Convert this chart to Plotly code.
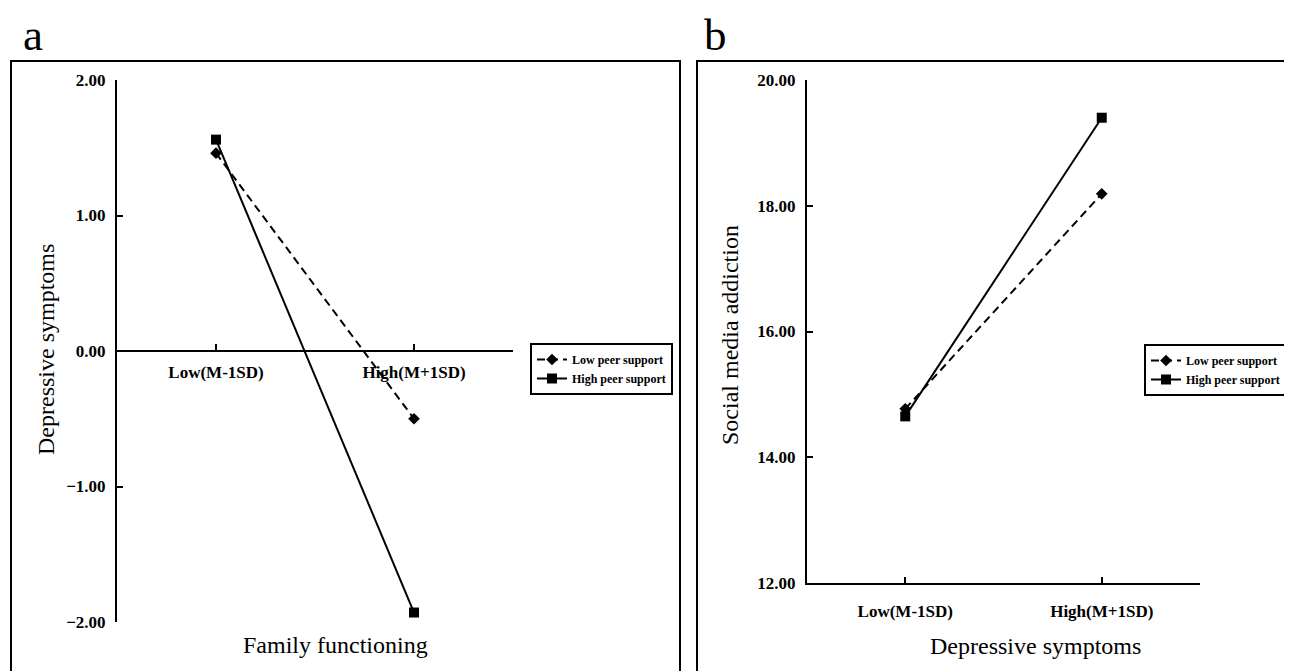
import plotly.graph_objects as go

W, H = 1292, 671
OFF = 8  # page body margin offset

# ---- data ----
categories = ["Low(M-1SD)", "High(M+1SD)"]
a_low_peer = [1.46, -0.50]
a_high_peer = [1.56, -1.93]
b_low_peer = [14.77, 18.19]
b_high_peer = [14.65, 19.40]
series_names = ["Low peer support", "High peer support"]
a_yticks = [-2, -1, 0, 1, 2]
b_yticks = [12, 14, 16, 18, 20]

xpos = list(range(len(categories)))

SERIF = "Liberation Serif, Times New Roman, serif"

def px(x):
    return (x - OFF) / W

def py(y):
    return 1 - (y - OFF) / H

fig = go.Figure()

low_style = dict(mode="lines+markers",
                 line=dict(color="black", width=2, dash="8px,5px"),
                 marker=dict(symbol="diamond", size=9, color="black"))
high_style = dict(mode="lines+markers",
                  line=dict(color="black", width=2),
                  marker=dict(symbol="square", size=10, color="black"))

fig.add_trace(go.Scatter(x=xpos, y=a_low_peer, name=series_names[0],
                         xaxis="x", yaxis="y", legend="legend", **low_style))
fig.add_trace(go.Scatter(x=xpos, y=a_high_peer, name=series_names[1],
                         xaxis="x", yaxis="y", legend="legend", **high_style))
fig.add_trace(go.Scatter(x=xpos, y=b_low_peer, name=series_names[0],
                         xaxis="x2", yaxis="y2", legend="legend2", **low_style))
fig.add_trace(go.Scatter(x=xpos, y=b_high_peer, name=series_names[1],
                         xaxis="x2", yaxis="y2", legend="legend2", **high_style))

tickfont = dict(family=SERIF, size=17, color="black", weight="bold")

ya_dom = [py(622), py(80)]
yb_dom = [py(583), py(80)]
xa_dom = [px(117), px(513)]
xb_dom = [px(807), px(1200)]

x_tickvals = [-0.5] + xpos + [len(categories) - 0.5]
x_ticktext = [""] + categories + [""]

common_x = dict(range=[-0.5, len(categories) - 0.5], tickmode="array",
                tickvals=x_tickvals, ticktext=x_ticktext,
                showline=True, linecolor="black", linewidth=2,
                ticks="inside", ticklen=6, tickwidth=2, tickcolor="black",
                showgrid=False, zeroline=False, tickfont=tickfont,
                automargin=False)
common_y = dict(showline=True, linecolor="black", linewidth=2,
                ticks="inside", ticklen=6, tickwidth=2, tickcolor="black",
                showgrid=False, zeroline=False, tickfont=tickfont,
                tickformat=".2f", tickmode="array", ticklabelstandoff=6,
                automargin=False)

legend_font = dict(family=SERIF, size=12, color="black", weight="bold")

fig.update_layout(
    template="none",
    width=W, height=H,
    margin=dict(l=0, r=0, t=0, b=0, pad=0),
    paper_bgcolor="white", plot_bgcolor="white",
    xaxis=dict(domain=xa_dom, anchor="free",
               position=ya_dom[0] + (ya_dom[1] - ya_dom[0]) * 0.5,
               ticklabelstandoff=6, **common_x),
    yaxis=dict(domain=ya_dom, anchor="x", range=[-2, 2],
               tickvals=a_yticks, **common_y),
    xaxis2=dict(domain=xb_dom, anchor="y2", ticklabelstandoff=12, **common_x),
    yaxis2=dict(domain=yb_dom, anchor="x2", range=[12, 20],
                tickvals=b_yticks, **common_y),
    legend=dict(x=px(530), y=py(343), xanchor="left", yanchor="top",
                bordercolor="black", borderwidth=2, bgcolor="white",
                font=legend_font, itemwidth=30, tracegroupgap=0),
    legend2=dict(x=px(1144), y=py(344), xanchor="left", yanchor="top",
                 bordercolor="black", borderwidth=2, bgcolor="white",
                 font=legend_font, itemwidth=30, tracegroupgap=0),
    showlegend=True,
)

# panel frames
fig.add_shape(type="rect", xref="paper", yref="paper",
              x0=px(11), x1=px(680), y0=-0.05, y1=py(61),
              line=dict(color="black", width=2))
fig.add_shape(type="rect", xref="paper", yref="paper",
              x0=px(697), x1=px(1290), y0=-0.05, y1=py(61),
              line=dict(color="black", width=2))

ann_font = dict(family=SERIF, size=24, color="black")
letter_font = dict(family=SERIF, size=45, color="black")
annotations = [
    dict(text="a", x=px(21), y=py(8), xanchor="left", yanchor="top",
         font=letter_font),
    dict(text="b", x=px(702), y=py(8), xanchor="left", yanchor="top",
         font=letter_font),
    dict(text="Depressive symptoms", x=px(46), y=py(350), textangle=-90,
         xanchor="center", yanchor="middle", font=ann_font),
    dict(text="Family functioning", x=px(335), y=py(645),
         xanchor="center", yanchor="middle", font=ann_font),
    dict(text="Social media addiction", x=px(730), y=py(335), textangle=-90,
         xanchor="center", yanchor="middle", font=ann_font),
    dict(text="Depressive symptoms", x=px(1035), y=py(646),
         xanchor="center", yanchor="middle", font=ann_font),
]
for a in annotations:
    a.update(xref="paper", yref="paper", showarrow=False)
fig.update_layout(annotations=annotations)

fig.write_html("out.html")
